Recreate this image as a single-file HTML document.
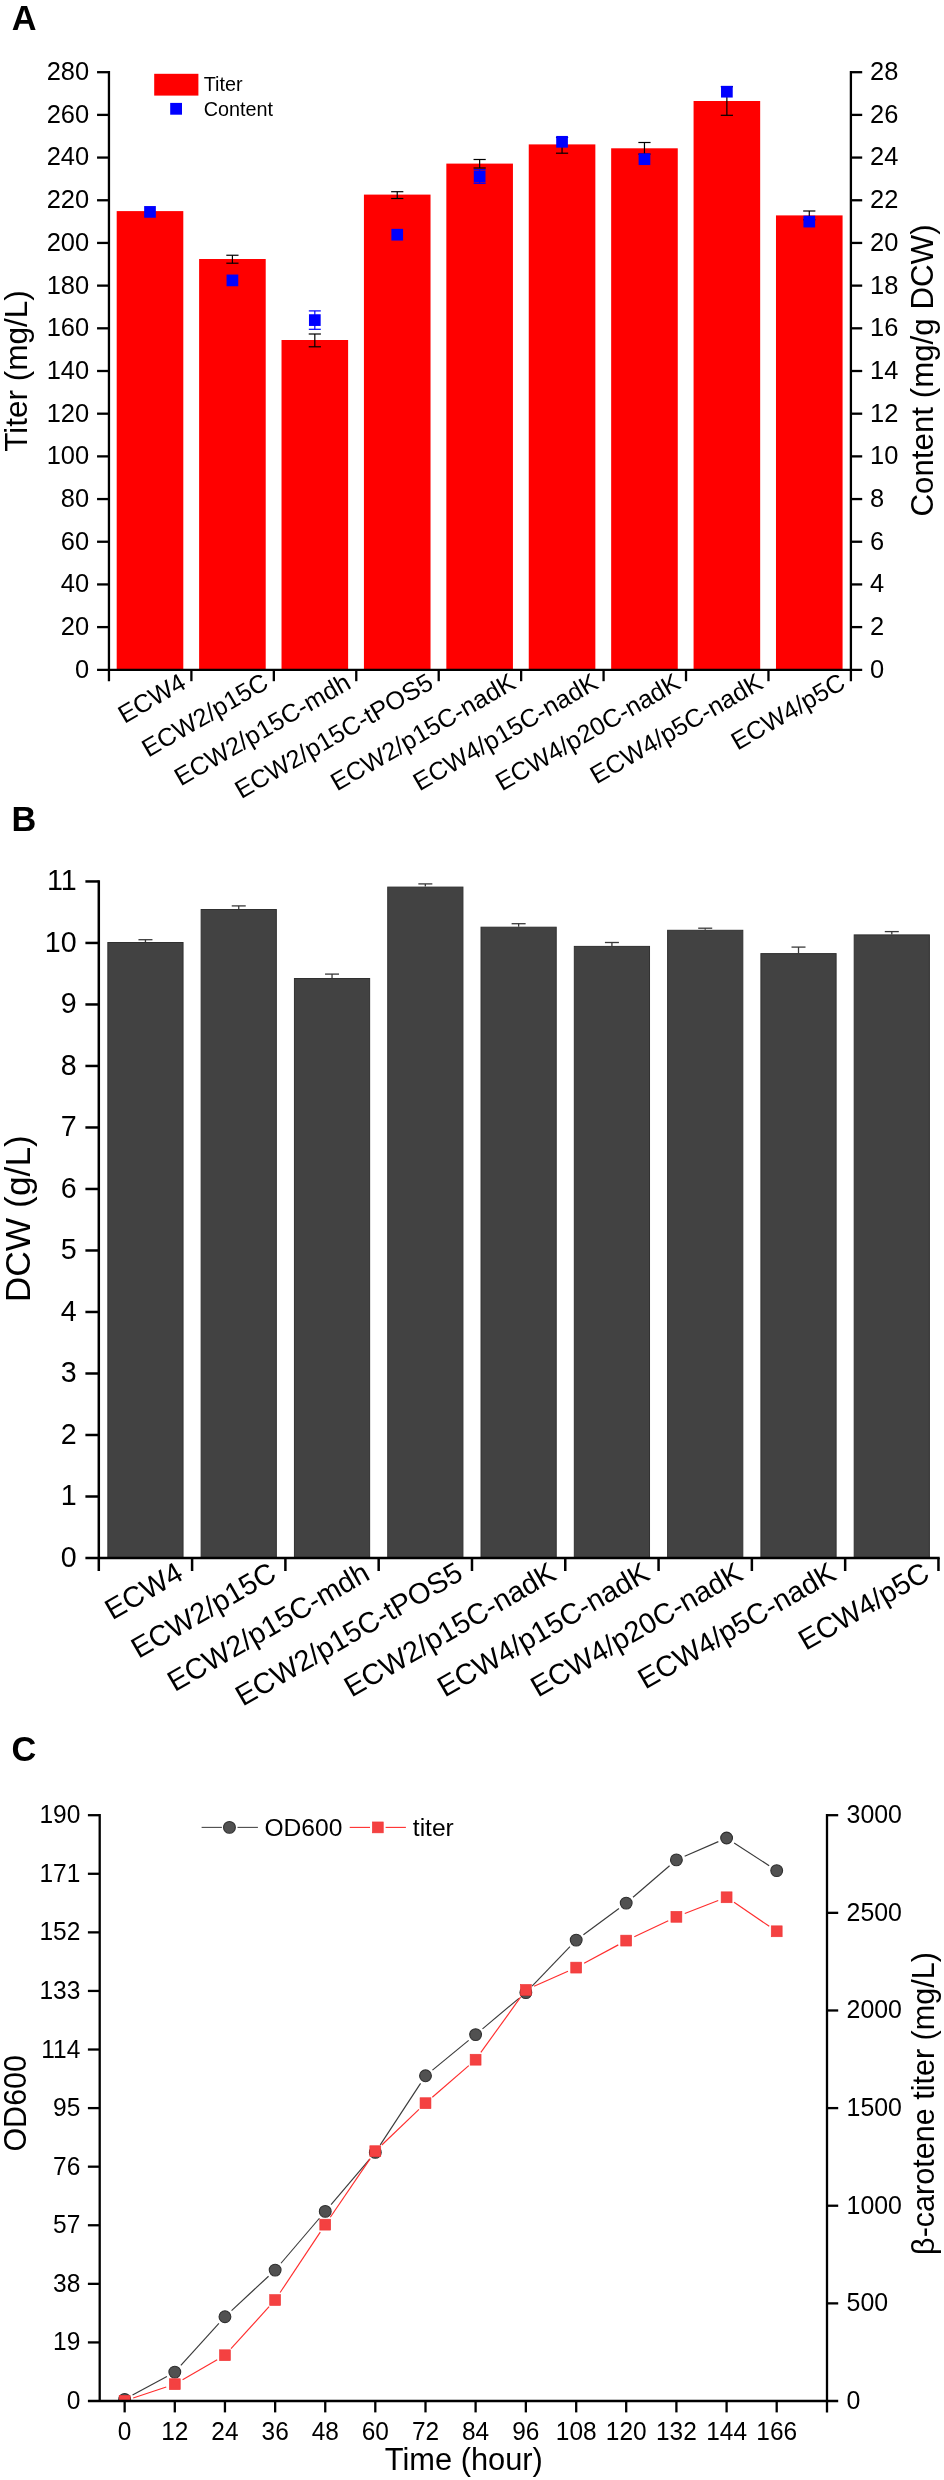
<!DOCTYPE html>
<html><head><meta charset="utf-8"><title>Figure</title>
<style>
html,body{margin:0;padding:0;background:#fff;}
body{width:944px;height:2480px;overflow:hidden;font-family:"Liberation Sans",sans-serif;}
svg{display:block;will-change:transform;}
svg text{font-family:"Liberation Sans",sans-serif;}
</style></head><body>
<svg width="944" height="2480" viewBox="0 0 944 2480">
<rect x="0" y="0" width="944" height="2480" fill="#ffffff"/>
<text x="11.8" y="30" font-size="34.3" text-anchor="start" font-weight="bold" fill="#000">A</text>
<rect x="116.7" y="211.1" width="66.6" height="458.7" fill="#ff0000"/>
<rect x="199.11" y="259" width="66.6" height="410.8" fill="#ff0000"/>
<rect x="281.52" y="340" width="66.6" height="329.8" fill="#ff0000"/>
<rect x="363.93" y="194.6" width="66.6" height="475.2" fill="#ff0000"/>
<rect x="446.34" y="163.6" width="66.6" height="506.2" fill="#ff0000"/>
<rect x="528.75" y="144.4" width="66.6" height="525.4" fill="#ff0000"/>
<rect x="611.16" y="148.3" width="66.6" height="521.5" fill="#ff0000"/>
<rect x="693.57" y="101" width="66.6" height="568.8" fill="#ff0000"/>
<rect x="775.98" y="215.4" width="66.6" height="454.4" fill="#ff0000"/>
<rect x="144.15" y="206.05" width="11.7" height="11.7" fill="#0000ff"/>
<line x1="232.41" y1="255.25" x2="232.41" y2="263.2" stroke="#000" stroke-width="1.2"/>
<line x1="226.31" y1="255.25" x2="238.51" y2="255.25" stroke="#000" stroke-width="1.2"/>
<line x1="226.31" y1="263.2" x2="238.51" y2="263.2" stroke="#000" stroke-width="1.2"/>
<rect x="226.56" y="274.55" width="11.7" height="11.7" fill="#0000ff"/>
<line x1="314.82" y1="334" x2="314.82" y2="346.8" stroke="#000" stroke-width="1.2"/>
<line x1="308.71999999999997" y1="334" x2="320.92" y2="334" stroke="#000" stroke-width="1.2"/>
<line x1="308.71999999999997" y1="346.8" x2="320.92" y2="346.8" stroke="#000" stroke-width="1.2"/>
<line x1="314.82" y1="310.90000000000003" x2="314.82" y2="329.3" stroke="#0000ff" stroke-width="1.2"/>
<line x1="308.82" y1="310.9" x2="320.82" y2="310.9" stroke="#0000ff" stroke-width="1.2"/>
<line x1="308.82" y1="329.3" x2="320.82" y2="329.3" stroke="#0000ff" stroke-width="1.2"/>
<rect x="308.97" y="314.25" width="11.7" height="11.7" fill="#0000ff"/>
<line x1="397.23" y1="191.7" x2="397.23" y2="198.5" stroke="#000" stroke-width="1.2"/>
<line x1="391.13" y1="191.7" x2="403.33000000000004" y2="191.7" stroke="#000" stroke-width="1.2"/>
<line x1="391.13" y1="198.5" x2="403.33000000000004" y2="198.5" stroke="#000" stroke-width="1.2"/>
<rect x="391.38" y="228.85" width="11.7" height="11.7" fill="#0000ff"/>
<line x1="479.64" y1="159.5" x2="479.64" y2="168" stroke="#000" stroke-width="1.2"/>
<line x1="473.53999999999996" y1="159.5" x2="485.74" y2="159.5" stroke="#000" stroke-width="1.2"/>
<line x1="473.53999999999996" y1="168" x2="485.74" y2="168" stroke="#000" stroke-width="1.2"/>
<line x1="479.64" y1="169.7" x2="479.64" y2="183.3" stroke="#0000ff" stroke-width="1.2"/>
<line x1="473.64" y1="169.7" x2="485.64" y2="169.7" stroke="#0000ff" stroke-width="1.2"/>
<line x1="473.64" y1="183.3" x2="485.64" y2="183.3" stroke="#0000ff" stroke-width="1.2"/>
<rect x="473.79" y="170.65" width="11.7" height="11.7" fill="#0000ff"/>
<line x1="562.05" y1="137.5" x2="562.05" y2="153.2" stroke="#000" stroke-width="1.2"/>
<line x1="555.9499999999999" y1="137.5" x2="568.15" y2="137.5" stroke="#000" stroke-width="1.2"/>
<line x1="555.9499999999999" y1="153.2" x2="568.15" y2="153.2" stroke="#000" stroke-width="1.2"/>
<rect x="556.2" y="135.95" width="11.7" height="11.7" fill="#0000ff"/>
<line x1="644.46" y1="142.5" x2="644.46" y2="154.1" stroke="#000" stroke-width="1.2"/>
<line x1="638.36" y1="142.5" x2="650.5600000000001" y2="142.5" stroke="#000" stroke-width="1.2"/>
<line x1="638.36" y1="154.1" x2="650.5600000000001" y2="154.1" stroke="#000" stroke-width="1.2"/>
<rect x="638.61" y="153.35" width="11.7" height="11.7" fill="#0000ff"/>
<line x1="726.87" y1="86.7" x2="726.87" y2="115.3" stroke="#000" stroke-width="1.2"/>
<line x1="720.77" y1="86.7" x2="732.97" y2="86.7" stroke="#000" stroke-width="1.2"/>
<line x1="720.77" y1="115.3" x2="732.97" y2="115.3" stroke="#000" stroke-width="1.2"/>
<rect x="721.02" y="85.85" width="11.7" height="11.7" fill="#0000ff"/>
<line x1="809.28" y1="211" x2="809.28" y2="219.8" stroke="#000" stroke-width="1.2"/>
<line x1="803.18" y1="211" x2="815.38" y2="211" stroke="#000" stroke-width="1.2"/>
<line x1="803.18" y1="219.8" x2="815.38" y2="219.8" stroke="#000" stroke-width="1.2"/>
<rect x="803.43" y="215.75" width="11.7" height="11.7" fill="#0000ff"/>
<line x1="108.95" y1="71.05" x2="108.95" y2="681.1999999999999" stroke="#000" stroke-width="2.3"/>
<line x1="850.9" y1="71.05" x2="850.9" y2="681.1999999999999" stroke="#000" stroke-width="2.3"/>
<line x1="97.05" y1="669.8" x2="862.1999999999999" y2="669.8" stroke="#000" stroke-width="2.3"/>
<line x1="97.05" y1="72.2" x2="108.95" y2="72.2" stroke="#000" stroke-width="2.3"/>
<line x1="850.9" y1="72.2" x2="862.1999999999999" y2="72.2" stroke="#000" stroke-width="2.3"/>
<text transform="translate(89.15 80.1) scale(0.975 1)" font-size="26.1" text-anchor="end" fill="#000">280</text>
<text transform="translate(870.1 80.1) scale(0.975 1)" font-size="26.1" text-anchor="start" fill="#000">28</text>
<line x1="97.05" y1="114.89" x2="108.95" y2="114.89" stroke="#000" stroke-width="2.3"/>
<line x1="850.9" y1="114.89" x2="862.1999999999999" y2="114.89" stroke="#000" stroke-width="2.3"/>
<text transform="translate(89.15 122.79) scale(0.975 1)" font-size="26.1" text-anchor="end" fill="#000">260</text>
<text transform="translate(870.1 122.79) scale(0.975 1)" font-size="26.1" text-anchor="start" fill="#000">26</text>
<line x1="97.05" y1="157.57" x2="108.95" y2="157.57" stroke="#000" stroke-width="2.3"/>
<line x1="850.9" y1="157.57" x2="862.1999999999999" y2="157.57" stroke="#000" stroke-width="2.3"/>
<text transform="translate(89.15 165.47) scale(0.975 1)" font-size="26.1" text-anchor="end" fill="#000">240</text>
<text transform="translate(870.1 165.47) scale(0.975 1)" font-size="26.1" text-anchor="start" fill="#000">24</text>
<line x1="97.05" y1="200.26" x2="108.95" y2="200.26" stroke="#000" stroke-width="2.3"/>
<line x1="850.9" y1="200.26" x2="862.1999999999999" y2="200.26" stroke="#000" stroke-width="2.3"/>
<text transform="translate(89.15 208.16) scale(0.975 1)" font-size="26.1" text-anchor="end" fill="#000">220</text>
<text transform="translate(870.1 208.16) scale(0.975 1)" font-size="26.1" text-anchor="start" fill="#000">22</text>
<line x1="97.05" y1="242.94" x2="108.95" y2="242.94" stroke="#000" stroke-width="2.3"/>
<line x1="850.9" y1="242.94" x2="862.1999999999999" y2="242.94" stroke="#000" stroke-width="2.3"/>
<text transform="translate(89.15 250.84) scale(0.975 1)" font-size="26.1" text-anchor="end" fill="#000">200</text>
<text transform="translate(870.1 250.84) scale(0.975 1)" font-size="26.1" text-anchor="start" fill="#000">20</text>
<line x1="97.05" y1="285.63" x2="108.95" y2="285.63" stroke="#000" stroke-width="2.3"/>
<line x1="850.9" y1="285.63" x2="862.1999999999999" y2="285.63" stroke="#000" stroke-width="2.3"/>
<text transform="translate(89.15 293.53) scale(0.975 1)" font-size="26.1" text-anchor="end" fill="#000">180</text>
<text transform="translate(870.1 293.53) scale(0.975 1)" font-size="26.1" text-anchor="start" fill="#000">18</text>
<line x1="97.05" y1="328.31" x2="108.95" y2="328.31" stroke="#000" stroke-width="2.3"/>
<line x1="850.9" y1="328.31" x2="862.1999999999999" y2="328.31" stroke="#000" stroke-width="2.3"/>
<text transform="translate(89.15 336.21) scale(0.975 1)" font-size="26.1" text-anchor="end" fill="#000">160</text>
<text transform="translate(870.1 336.21) scale(0.975 1)" font-size="26.1" text-anchor="start" fill="#000">16</text>
<line x1="97.05" y1="371.0" x2="108.95" y2="371.0" stroke="#000" stroke-width="2.3"/>
<line x1="850.9" y1="371.0" x2="862.1999999999999" y2="371.0" stroke="#000" stroke-width="2.3"/>
<text transform="translate(89.15 378.9) scale(0.975 1)" font-size="26.1" text-anchor="end" fill="#000">140</text>
<text transform="translate(870.1 378.9) scale(0.975 1)" font-size="26.1" text-anchor="start" fill="#000">14</text>
<line x1="97.05" y1="413.69" x2="108.95" y2="413.69" stroke="#000" stroke-width="2.3"/>
<line x1="850.9" y1="413.69" x2="862.1999999999999" y2="413.69" stroke="#000" stroke-width="2.3"/>
<text transform="translate(89.15 421.59) scale(0.975 1)" font-size="26.1" text-anchor="end" fill="#000">120</text>
<text transform="translate(870.1 421.59) scale(0.975 1)" font-size="26.1" text-anchor="start" fill="#000">12</text>
<line x1="97.05" y1="456.37" x2="108.95" y2="456.37" stroke="#000" stroke-width="2.3"/>
<line x1="850.9" y1="456.37" x2="862.1999999999999" y2="456.37" stroke="#000" stroke-width="2.3"/>
<text transform="translate(89.15 464.27) scale(0.975 1)" font-size="26.1" text-anchor="end" fill="#000">100</text>
<text transform="translate(870.1 464.27) scale(0.975 1)" font-size="26.1" text-anchor="start" fill="#000">10</text>
<line x1="97.05" y1="499.06" x2="108.95" y2="499.06" stroke="#000" stroke-width="2.3"/>
<line x1="850.9" y1="499.06" x2="862.1999999999999" y2="499.06" stroke="#000" stroke-width="2.3"/>
<text transform="translate(89.15 506.96) scale(0.975 1)" font-size="26.1" text-anchor="end" fill="#000">80</text>
<text transform="translate(870.1 506.96) scale(0.975 1)" font-size="26.1" text-anchor="start" fill="#000">8</text>
<line x1="97.05" y1="541.74" x2="108.95" y2="541.74" stroke="#000" stroke-width="2.3"/>
<line x1="850.9" y1="541.74" x2="862.1999999999999" y2="541.74" stroke="#000" stroke-width="2.3"/>
<text transform="translate(89.15 549.64) scale(0.975 1)" font-size="26.1" text-anchor="end" fill="#000">60</text>
<text transform="translate(870.1 549.64) scale(0.975 1)" font-size="26.1" text-anchor="start" fill="#000">6</text>
<line x1="97.05" y1="584.43" x2="108.95" y2="584.43" stroke="#000" stroke-width="2.3"/>
<line x1="850.9" y1="584.43" x2="862.1999999999999" y2="584.43" stroke="#000" stroke-width="2.3"/>
<text transform="translate(89.15 592.33) scale(0.975 1)" font-size="26.1" text-anchor="end" fill="#000">40</text>
<text transform="translate(870.1 592.33) scale(0.975 1)" font-size="26.1" text-anchor="start" fill="#000">4</text>
<line x1="97.05" y1="627.11" x2="108.95" y2="627.11" stroke="#000" stroke-width="2.3"/>
<line x1="850.9" y1="627.11" x2="862.1999999999999" y2="627.11" stroke="#000" stroke-width="2.3"/>
<text transform="translate(89.15 635.01) scale(0.975 1)" font-size="26.1" text-anchor="end" fill="#000">20</text>
<text transform="translate(870.1 635.01) scale(0.975 1)" font-size="26.1" text-anchor="start" fill="#000">2</text>
<text transform="translate(89.15 677.7) scale(0.975 1)" font-size="26.1" text-anchor="end" fill="#000">0</text>
<text transform="translate(870.1 677.7) scale(0.975 1)" font-size="26.1" text-anchor="start" fill="#000">0</text>
<text x="187.7" y="687.4" font-size="25.3" text-anchor="end" transform="rotate(-30 187.7 687.4)" fill="#000">ECW4</text>
<line x1="191.39" y1="669.8" x2="191.39" y2="681.1999999999999" stroke="#000" stroke-width="2.3"/>
<text x="270.1" y="687.4" font-size="25.3" text-anchor="end" transform="rotate(-30 270.1 687.4)" fill="#000">ECW2/p15C</text>
<line x1="273.83" y1="669.8" x2="273.83" y2="681.1999999999999" stroke="#000" stroke-width="2.3"/>
<text x="352.5" y="687.4" font-size="25.3" text-anchor="end" transform="rotate(-30 352.5 687.4)" fill="#000">ECW2/p15C-mdh</text>
<line x1="356.27" y1="669.8" x2="356.27" y2="681.1999999999999" stroke="#000" stroke-width="2.3"/>
<text x="434.9" y="687.4" font-size="25.3" text-anchor="end" transform="rotate(-30 434.9 687.4)" fill="#000">ECW2/p15C-tPOS5</text>
<line x1="438.71" y1="669.8" x2="438.71" y2="681.1999999999999" stroke="#000" stroke-width="2.3"/>
<text x="517.3" y="687.4" font-size="25.3" text-anchor="end" transform="rotate(-30 517.3 687.4)" fill="#000">ECW2/p15C-nadK</text>
<line x1="521.14" y1="669.8" x2="521.14" y2="681.1999999999999" stroke="#000" stroke-width="2.3"/>
<text x="599.8" y="687.4" font-size="25.3" text-anchor="end" transform="rotate(-30 599.8 687.4)" fill="#000">ECW4/p15C-nadK</text>
<line x1="603.58" y1="669.8" x2="603.58" y2="681.1999999999999" stroke="#000" stroke-width="2.3"/>
<text x="682.2" y="687.4" font-size="25.3" text-anchor="end" transform="rotate(-30 682.2 687.4)" fill="#000">ECW4/p20C-nadK</text>
<line x1="686.02" y1="669.8" x2="686.02" y2="681.1999999999999" stroke="#000" stroke-width="2.3"/>
<text x="764.6" y="687.4" font-size="25.3" text-anchor="end" transform="rotate(-30 764.6 687.4)" fill="#000">ECW4/p5C-nadK</text>
<line x1="768.46" y1="669.8" x2="768.46" y2="681.1999999999999" stroke="#000" stroke-width="2.3"/>
<text x="847.0" y="687.4" font-size="25.3" text-anchor="end" transform="rotate(-30 847.0 687.4)" fill="#000">ECW4/p5C</text>
<rect x="154.2" y="73.8" width="44.2" height="21.8" fill="#ff0000"/>
<rect x="170.2" y="102.9" width="11.8" height="11.8" fill="#0000ff"/>
<text x="203.7" y="91.4" font-size="19.8" text-anchor="start" fill="#000">Titer</text>
<text x="203.7" y="115.6" font-size="19.8" text-anchor="start" fill="#000">Content</text>
<text x="26.9" y="371" font-size="31.5" text-anchor="middle" transform="rotate(-90 26.9 371)" fill="#000">Titer (mg/L)</text>
<text x="933.3" y="370.5" font-size="31.3" text-anchor="middle" transform="rotate(-90 933.3 370.5)" fill="#000">Content (mg/g DCW)</text>
<text x="11.6" y="831" font-size="34.3" text-anchor="start" font-weight="bold" fill="#000">B</text>
<line x1="145.45" y1="939.7" x2="145.45" y2="942.0" stroke="#3a3a3a" stroke-width="1.3"/>
<line x1="138.45" y1="939.7" x2="152.45" y2="939.7" stroke="#3a3a3a" stroke-width="1.3"/>
<rect x="107.85" y="942.5" width="75.2" height="615.5" fill="#424242" stroke="#303030" stroke-width="1"/>
<line x1="238.74" y1="905.9" x2="238.74" y2="909.0" stroke="#3a3a3a" stroke-width="1.3"/>
<line x1="231.74" y1="905.9" x2="245.74" y2="905.9" stroke="#3a3a3a" stroke-width="1.3"/>
<rect x="201.14" y="909.5" width="75.2" height="648.5" fill="#424242" stroke="#303030" stroke-width="1"/>
<line x1="332.04" y1="974.1" x2="332.04" y2="978.0" stroke="#3a3a3a" stroke-width="1.3"/>
<line x1="325.04" y1="974.1" x2="339.04" y2="974.1" stroke="#3a3a3a" stroke-width="1.3"/>
<rect x="294.44" y="978.5" width="75.2" height="579.5" fill="#424242" stroke="#303030" stroke-width="1"/>
<line x1="425.33" y1="883.9" x2="425.33" y2="886.6" stroke="#3a3a3a" stroke-width="1.3"/>
<line x1="418.33" y1="883.9" x2="432.33" y2="883.9" stroke="#3a3a3a" stroke-width="1.3"/>
<rect x="387.73" y="887.1" width="75.2" height="670.9" fill="#424242" stroke="#303030" stroke-width="1"/>
<line x1="518.62" y1="923.7" x2="518.62" y2="926.7" stroke="#3a3a3a" stroke-width="1.3"/>
<line x1="511.62" y1="923.7" x2="525.62" y2="923.7" stroke="#3a3a3a" stroke-width="1.3"/>
<rect x="481.02" y="927.2" width="75.2" height="630.8" fill="#424242" stroke="#303030" stroke-width="1"/>
<line x1="611.92" y1="942.5" x2="611.92" y2="945.9" stroke="#3a3a3a" stroke-width="1.3"/>
<line x1="604.92" y1="942.5" x2="618.92" y2="942.5" stroke="#3a3a3a" stroke-width="1.3"/>
<rect x="574.32" y="946.4" width="75.2" height="611.6" fill="#424242" stroke="#303030" stroke-width="1"/>
<line x1="705.21" y1="928.2" x2="705.21" y2="929.8" stroke="#3a3a3a" stroke-width="1.3"/>
<line x1="698.21" y1="928.2" x2="712.21" y2="928.2" stroke="#3a3a3a" stroke-width="1.3"/>
<rect x="667.61" y="930.3" width="75.2" height="627.7" fill="#424242" stroke="#303030" stroke-width="1"/>
<line x1="798.51" y1="947.1" x2="798.51" y2="953.1" stroke="#3a3a3a" stroke-width="1.3"/>
<line x1="791.51" y1="947.1" x2="805.51" y2="947.1" stroke="#3a3a3a" stroke-width="1.3"/>
<rect x="760.91" y="953.6" width="75.2" height="604.4" fill="#424242" stroke="#303030" stroke-width="1"/>
<line x1="891.8" y1="931.6" x2="891.8" y2="934.4" stroke="#3a3a3a" stroke-width="1.3"/>
<line x1="884.8" y1="931.6" x2="898.8" y2="931.6" stroke="#3a3a3a" stroke-width="1.3"/>
<rect x="854.2" y="934.9" width="75.2" height="623.1" fill="#424242" stroke="#303030" stroke-width="1"/>
<line x1="98.8" y1="880.2" x2="98.8" y2="1571.0" stroke="#000" stroke-width="2.5"/>
<line x1="85.39999999999999" y1="1558.0" x2="939.7" y2="1558.0" stroke="#000" stroke-width="2.5"/>
<line x1="85.39999999999999" y1="881.45" x2="98.8" y2="881.45" stroke="#000" stroke-width="2.5"/>
<text transform="translate(76.7 890.35) scale(0.955 1)" font-size="30.0" text-anchor="end" fill="#000">11</text>
<line x1="85.39999999999999" y1="942.95" x2="98.8" y2="942.95" stroke="#000" stroke-width="2.5"/>
<text transform="translate(76.7 951.85) scale(0.955 1)" font-size="30.0" text-anchor="end" fill="#000">10</text>
<line x1="85.39999999999999" y1="1004.46" x2="98.8" y2="1004.46" stroke="#000" stroke-width="2.5"/>
<text transform="translate(76.7 1013.36) scale(0.955 1)" font-size="30.0" text-anchor="end" fill="#000">9</text>
<line x1="85.39999999999999" y1="1065.96" x2="98.8" y2="1065.96" stroke="#000" stroke-width="2.5"/>
<text transform="translate(76.7 1074.86) scale(0.955 1)" font-size="30.0" text-anchor="end" fill="#000">8</text>
<line x1="85.39999999999999" y1="1127.47" x2="98.8" y2="1127.47" stroke="#000" stroke-width="2.5"/>
<text transform="translate(76.7 1136.37) scale(0.955 1)" font-size="30.0" text-anchor="end" fill="#000">7</text>
<line x1="85.39999999999999" y1="1188.97" x2="98.8" y2="1188.97" stroke="#000" stroke-width="2.5"/>
<text transform="translate(76.7 1197.87) scale(0.955 1)" font-size="30.0" text-anchor="end" fill="#000">6</text>
<line x1="85.39999999999999" y1="1250.48" x2="98.8" y2="1250.48" stroke="#000" stroke-width="2.5"/>
<text transform="translate(76.7 1259.38) scale(0.955 1)" font-size="30.0" text-anchor="end" fill="#000">5</text>
<line x1="85.39999999999999" y1="1311.98" x2="98.8" y2="1311.98" stroke="#000" stroke-width="2.5"/>
<text transform="translate(76.7 1320.88) scale(0.955 1)" font-size="30.0" text-anchor="end" fill="#000">4</text>
<line x1="85.39999999999999" y1="1373.49" x2="98.8" y2="1373.49" stroke="#000" stroke-width="2.5"/>
<text transform="translate(76.7 1382.39) scale(0.955 1)" font-size="30.0" text-anchor="end" fill="#000">3</text>
<line x1="85.39999999999999" y1="1434.99" x2="98.8" y2="1434.99" stroke="#000" stroke-width="2.5"/>
<text transform="translate(76.7 1443.89) scale(0.955 1)" font-size="30.0" text-anchor="end" fill="#000">2</text>
<line x1="85.39999999999999" y1="1496.5" x2="98.8" y2="1496.5" stroke="#000" stroke-width="2.5"/>
<text transform="translate(76.7 1505.4) scale(0.955 1)" font-size="30.0" text-anchor="end" fill="#000">1</text>
<text transform="translate(76.7 1566.9) scale(0.955 1)" font-size="30.0" text-anchor="end" fill="#000">0</text>
<line x1="192.09" y1="1558.0" x2="192.09" y2="1571.0" stroke="#000" stroke-width="2.5"/>
<text x="184.9" y="1578.5" font-size="29.0" text-anchor="end" transform="rotate(-30 184.9 1578.5)" fill="#000">ECW4</text>
<line x1="285.39" y1="1558.0" x2="285.39" y2="1571.0" stroke="#000" stroke-width="2.5"/>
<text x="278.2" y="1578.5" font-size="29.0" text-anchor="end" transform="rotate(-30 278.2 1578.5)" fill="#000">ECW2/p15C</text>
<line x1="378.68" y1="1558.0" x2="378.68" y2="1571.0" stroke="#000" stroke-width="2.5"/>
<text x="371.5" y="1578.5" font-size="29.0" text-anchor="end" transform="rotate(-30 371.5 1578.5)" fill="#000">ECW2/p15C-mdh</text>
<line x1="471.98" y1="1558.0" x2="471.98" y2="1571.0" stroke="#000" stroke-width="2.5"/>
<text x="464.8" y="1578.5" font-size="29.0" text-anchor="end" transform="rotate(-30 464.8 1578.5)" fill="#000">ECW2/p15C-tPOS5</text>
<line x1="565.27" y1="1558.0" x2="565.27" y2="1571.0" stroke="#000" stroke-width="2.5"/>
<text x="558.1" y="1578.5" font-size="29.0" text-anchor="end" transform="rotate(-30 558.1 1578.5)" fill="#000">ECW2/p15C-nadK</text>
<line x1="658.57" y1="1558.0" x2="658.57" y2="1571.0" stroke="#000" stroke-width="2.5"/>
<text x="651.4" y="1578.5" font-size="29.0" text-anchor="end" transform="rotate(-30 651.4 1578.5)" fill="#000">ECW4/p15C-nadK</text>
<line x1="751.86" y1="1558.0" x2="751.86" y2="1571.0" stroke="#000" stroke-width="2.5"/>
<text x="744.7" y="1578.5" font-size="29.0" text-anchor="end" transform="rotate(-30 744.7 1578.5)" fill="#000">ECW4/p20C-nadK</text>
<line x1="845.16" y1="1558.0" x2="845.16" y2="1571.0" stroke="#000" stroke-width="2.5"/>
<text x="838.0" y="1578.5" font-size="29.0" text-anchor="end" transform="rotate(-30 838.0 1578.5)" fill="#000">ECW4/p5C-nadK</text>
<line x1="938.45" y1="1558.0" x2="938.45" y2="1571.0" stroke="#000" stroke-width="2.5"/>
<text x="931.3" y="1578.5" font-size="29.0" text-anchor="end" transform="rotate(-30 931.3 1578.5)" fill="#000">ECW4/p5C</text>
<text x="29.9" y="1218.7" font-size="35.4" text-anchor="middle" transform="rotate(-90 29.9 1218.7)" fill="#000">DCW (g/L)</text>
<text x="11.5" y="1760.7" font-size="34.3" text-anchor="start" font-weight="bold" fill="#000">C</text>
<clipPath id="cpc"><rect x="99.7" y="1800" width="727.3" height="601.0"/></clipPath>
<g clip-path="url(#cpc)">
<line x1="132.55" y1="2395.1" x2="166.9" y2="2376.4" stroke="#3a3a3a" stroke-width="1.15"/>
<line x1="180.84" y1="2365.43" x2="218.91" y2="2323.37" stroke="#3a3a3a" stroke-width="1.15"/>
<line x1="231.55" y1="2310.58" x2="268.55" y2="2276.22" stroke="#3a3a3a" stroke-width="1.15"/>
<line x1="280.99" y1="2263.25" x2="319.41" y2="2218.25" stroke="#3a3a3a" stroke-width="1.15"/>
<line x1="331.07" y1="2204.54" x2="369.48" y2="2159.26" stroke="#3a3a3a" stroke-width="1.15"/>
<line x1="380.23" y1="2144.87" x2="420.57" y2="2083.33" stroke="#3a3a3a" stroke-width="1.15"/>
<line x1="432.45" y1="2070.08" x2="468.65" y2="2040.32" stroke="#3a3a3a" stroke-width="1.15"/>
<line x1="482.51" y1="2028.83" x2="518.94" y2="1998.37" stroke="#3a3a3a" stroke-width="1.15"/>
<line x1="532.08" y1="1986.1" x2="569.97" y2="1946.6" stroke="#3a3a3a" stroke-width="1.15"/>
<line x1="583.43" y1="1934.75" x2="618.97" y2="1908.45" stroke="#3a3a3a" stroke-width="1.15"/>
<line x1="633.02" y1="1897.23" x2="669.58" y2="1865.77" stroke="#3a3a3a" stroke-width="1.15"/>
<line x1="684.65" y1="1856.3" x2="718.35" y2="1841.6" stroke="#3a3a3a" stroke-width="1.15"/>
<line x1="734.14" y1="1842.91" x2="769.16" y2="1865.69" stroke="#3a3a3a" stroke-width="1.15"/>
<circle cx="124.65" cy="2399.4" r="5.9" fill="#515151" stroke="#2f2f2f" stroke-width="1.1"/>
<circle cx="174.8" cy="2372.1" r="5.9" fill="#515151" stroke="#2f2f2f" stroke-width="1.1"/>
<circle cx="224.95" cy="2316.7" r="5.9" fill="#515151" stroke="#2f2f2f" stroke-width="1.1"/>
<circle cx="275.15" cy="2270.1" r="5.9" fill="#515151" stroke="#2f2f2f" stroke-width="1.1"/>
<circle cx="325.25" cy="2211.4" r="5.9" fill="#515151" stroke="#2f2f2f" stroke-width="1.1"/>
<circle cx="375.3" cy="2152.4" r="5.9" fill="#515151" stroke="#2f2f2f" stroke-width="1.1"/>
<circle cx="425.5" cy="2075.8" r="5.9" fill="#515151" stroke="#2f2f2f" stroke-width="1.1"/>
<circle cx="475.6" cy="2034.6" r="5.9" fill="#515151" stroke="#2f2f2f" stroke-width="1.1"/>
<circle cx="525.85" cy="1992.6" r="5.9" fill="#515151" stroke="#2f2f2f" stroke-width="1.1"/>
<circle cx="576.2" cy="1940.1" r="5.9" fill="#515151" stroke="#2f2f2f" stroke-width="1.1"/>
<circle cx="626.2" cy="1903.1" r="5.9" fill="#515151" stroke="#2f2f2f" stroke-width="1.1"/>
<circle cx="676.4" cy="1859.9" r="5.9" fill="#515151" stroke="#2f2f2f" stroke-width="1.1"/>
<circle cx="726.6" cy="1838.0" r="5.9" fill="#515151" stroke="#2f2f2f" stroke-width="1.1"/>
<circle cx="776.7" cy="1870.6" r="5.9" fill="#515151" stroke="#2f2f2f" stroke-width="1.1"/>
<line x1="133.2" y1="2397.93" x2="166.25" y2="2387.02" stroke="#ff2d2d" stroke-width="1.15"/>
<line x1="182.59" y1="2379.7" x2="217.16" y2="2359.75" stroke="#ff2d2d" stroke-width="1.15"/>
<line x1="231.01" y1="2348.59" x2="269.09" y2="2306.71" stroke="#ff2d2d" stroke-width="1.15"/>
<line x1="280.13" y1="2292.55" x2="320.27" y2="2232.15" stroke="#ff2d2d" stroke-width="1.15"/>
<line x1="330.32" y1="2217.21" x2="370.23" y2="2158.64" stroke="#ff2d2d" stroke-width="1.15"/>
<line x1="381.8" y1="2144.98" x2="419.0" y2="2109.42" stroke="#ff2d2d" stroke-width="1.15"/>
<line x1="432.3" y1="2097.3" x2="468.8" y2="2065.6" stroke="#ff2d2d" stroke-width="1.15"/>
<line x1="480.86" y1="2052.4" x2="520.59" y2="1997.2" stroke="#ff2d2d" stroke-width="1.15"/>
<line x1="534.08" y1="1986.26" x2="567.97" y2="1971.24" stroke="#ff2d2d" stroke-width="1.15"/>
<line x1="584.12" y1="1963.32" x2="618.28" y2="1944.88" stroke="#ff2d2d" stroke-width="1.15"/>
<line x1="634.33" y1="1936.74" x2="668.27" y2="1920.66" stroke="#ff2d2d" stroke-width="1.15"/>
<line x1="684.79" y1="1913.54" x2="718.21" y2="1900.56" stroke="#ff2d2d" stroke-width="1.15"/>
<line x1="734.05" y1="1902.35" x2="769.25" y2="1926.25" stroke="#ff2d2d" stroke-width="1.15"/>
<rect x="119.2" y="2395.3" width="10.9" height="10.9" fill="#f44141" stroke="#f03434" stroke-width="0.6"/>
<rect x="169.35" y="2378.75" width="10.9" height="10.9" fill="#f44141" stroke="#f03434" stroke-width="0.6"/>
<rect x="219.5" y="2349.8" width="10.9" height="10.9" fill="#f44141" stroke="#f03434" stroke-width="0.6"/>
<rect x="269.7" y="2294.6" width="10.9" height="10.9" fill="#f44141" stroke="#f03434" stroke-width="0.6"/>
<rect x="319.8" y="2219.2" width="10.9" height="10.9" fill="#f44141" stroke="#f03434" stroke-width="0.6"/>
<rect x="369.85" y="2145.75" width="10.9" height="10.9" fill="#f44141" stroke="#f03434" stroke-width="0.6"/>
<rect x="420.05" y="2097.75" width="10.9" height="10.9" fill="#f44141" stroke="#f03434" stroke-width="0.6"/>
<rect x="470.15" y="2054.25" width="10.9" height="10.9" fill="#f44141" stroke="#f03434" stroke-width="0.6"/>
<rect x="520.4" y="1984.45" width="10.9" height="10.9" fill="#f44141" stroke="#f03434" stroke-width="0.6"/>
<rect x="570.75" y="1962.15" width="10.9" height="10.9" fill="#f44141" stroke="#f03434" stroke-width="0.6"/>
<rect x="620.75" y="1935.15" width="10.9" height="10.9" fill="#f44141" stroke="#f03434" stroke-width="0.6"/>
<rect x="670.95" y="1911.35" width="10.9" height="10.9" fill="#f44141" stroke="#f03434" stroke-width="0.6"/>
<rect x="721.15" y="1891.85" width="10.9" height="10.9" fill="#f44141" stroke="#f03434" stroke-width="0.6"/>
<rect x="771.25" y="1925.85" width="10.9" height="10.9" fill="#f44141" stroke="#f03434" stroke-width="0.6"/>
</g>
<line x1="99.7" y1="1814.05" x2="99.7" y2="2401.0" stroke="#000" stroke-width="2.3"/>
<line x1="827.0" y1="1814.05" x2="827.0" y2="2412.4" stroke="#000" stroke-width="2.3"/>
<line x1="87.9" y1="2401.0" x2="838.2" y2="2401.0" stroke="#000" stroke-width="2.3"/>
<line x1="87.9" y1="1815.2" x2="99.7" y2="1815.2" stroke="#000" stroke-width="2.3"/>
<text transform="translate(80.3 1823.2) scale(0.922 1)" font-size="26.6" text-anchor="end" fill="#000">190</text>
<line x1="87.9" y1="1873.78" x2="99.7" y2="1873.78" stroke="#000" stroke-width="2.3"/>
<text transform="translate(80.3 1881.78) scale(0.922 1)" font-size="26.6" text-anchor="end" fill="#000">171</text>
<line x1="87.9" y1="1932.36" x2="99.7" y2="1932.36" stroke="#000" stroke-width="2.3"/>
<text transform="translate(80.3 1940.36) scale(0.922 1)" font-size="26.6" text-anchor="end" fill="#000">152</text>
<line x1="87.9" y1="1990.94" x2="99.7" y2="1990.94" stroke="#000" stroke-width="2.3"/>
<text transform="translate(80.3 1998.94) scale(0.922 1)" font-size="26.6" text-anchor="end" fill="#000">133</text>
<line x1="87.9" y1="2049.52" x2="99.7" y2="2049.52" stroke="#000" stroke-width="2.3"/>
<text transform="translate(80.3 2057.52) scale(0.922 1)" font-size="26.6" text-anchor="end" fill="#000">114</text>
<line x1="87.9" y1="2108.1" x2="99.7" y2="2108.1" stroke="#000" stroke-width="2.3"/>
<text transform="translate(80.3 2116.1) scale(0.922 1)" font-size="26.6" text-anchor="end" fill="#000">95</text>
<line x1="87.9" y1="2166.68" x2="99.7" y2="2166.68" stroke="#000" stroke-width="2.3"/>
<text transform="translate(80.3 2174.68) scale(0.922 1)" font-size="26.6" text-anchor="end" fill="#000">76</text>
<line x1="87.9" y1="2225.26" x2="99.7" y2="2225.26" stroke="#000" stroke-width="2.3"/>
<text transform="translate(80.3 2233.26) scale(0.922 1)" font-size="26.6" text-anchor="end" fill="#000">57</text>
<line x1="87.9" y1="2283.84" x2="99.7" y2="2283.84" stroke="#000" stroke-width="2.3"/>
<text transform="translate(80.3 2291.84) scale(0.922 1)" font-size="26.6" text-anchor="end" fill="#000">38</text>
<line x1="87.9" y1="2342.42" x2="99.7" y2="2342.42" stroke="#000" stroke-width="2.3"/>
<text transform="translate(80.3 2350.42) scale(0.922 1)" font-size="26.6" text-anchor="end" fill="#000">19</text>
<text transform="translate(80.3 2409.0) scale(0.922 1)" font-size="26.6" text-anchor="end" fill="#000">0</text>
<line x1="827.0" y1="1815.2" x2="838.2" y2="1815.2" stroke="#000" stroke-width="2.3"/>
<text transform="translate(846.6 1823.2) scale(0.936 1)" font-size="26.6" text-anchor="start" fill="#000">3000</text>
<line x1="827.0" y1="1912.83" x2="838.2" y2="1912.83" stroke="#000" stroke-width="2.3"/>
<text transform="translate(846.6 1920.83) scale(0.936 1)" font-size="26.6" text-anchor="start" fill="#000">2500</text>
<line x1="827.0" y1="2010.47" x2="838.2" y2="2010.47" stroke="#000" stroke-width="2.3"/>
<text transform="translate(846.6 2018.47) scale(0.936 1)" font-size="26.6" text-anchor="start" fill="#000">2000</text>
<line x1="827.0" y1="2108.1" x2="838.2" y2="2108.1" stroke="#000" stroke-width="2.3"/>
<text transform="translate(846.6 2116.1) scale(0.936 1)" font-size="26.6" text-anchor="start" fill="#000">1500</text>
<line x1="827.0" y1="2205.73" x2="838.2" y2="2205.73" stroke="#000" stroke-width="2.3"/>
<text transform="translate(846.6 2213.73) scale(0.936 1)" font-size="26.6" text-anchor="start" fill="#000">1000</text>
<line x1="827.0" y1="2303.37" x2="838.2" y2="2303.37" stroke="#000" stroke-width="2.3"/>
<text transform="translate(846.6 2311.37) scale(0.936 1)" font-size="26.6" text-anchor="start" fill="#000">500</text>
<text transform="translate(846.6 2409.0) scale(0.936 1)" font-size="26.6" text-anchor="start" fill="#000">0</text>
<line x1="124.65" y1="2401.0" x2="124.65" y2="2412.4" stroke="#000" stroke-width="2.3"/>
<text transform="translate(124.65 2440.0) scale(0.94 1)" font-size="26.0" text-anchor="middle" fill="#000">0</text>
<line x1="174.8" y1="2401.0" x2="174.8" y2="2412.4" stroke="#000" stroke-width="2.3"/>
<text transform="translate(174.8 2440.0) scale(0.94 1)" font-size="26.0" text-anchor="middle" fill="#000">12</text>
<line x1="224.95" y1="2401.0" x2="224.95" y2="2412.4" stroke="#000" stroke-width="2.3"/>
<text transform="translate(224.95 2440.0) scale(0.94 1)" font-size="26.0" text-anchor="middle" fill="#000">24</text>
<line x1="275.15" y1="2401.0" x2="275.15" y2="2412.4" stroke="#000" stroke-width="2.3"/>
<text transform="translate(275.15 2440.0) scale(0.94 1)" font-size="26.0" text-anchor="middle" fill="#000">36</text>
<line x1="325.25" y1="2401.0" x2="325.25" y2="2412.4" stroke="#000" stroke-width="2.3"/>
<text transform="translate(325.25 2440.0) scale(0.94 1)" font-size="26.0" text-anchor="middle" fill="#000">48</text>
<line x1="375.3" y1="2401.0" x2="375.3" y2="2412.4" stroke="#000" stroke-width="2.3"/>
<text transform="translate(375.3 2440.0) scale(0.94 1)" font-size="26.0" text-anchor="middle" fill="#000">60</text>
<line x1="425.5" y1="2401.0" x2="425.5" y2="2412.4" stroke="#000" stroke-width="2.3"/>
<text transform="translate(425.5 2440.0) scale(0.94 1)" font-size="26.0" text-anchor="middle" fill="#000">72</text>
<line x1="475.6" y1="2401.0" x2="475.6" y2="2412.4" stroke="#000" stroke-width="2.3"/>
<text transform="translate(475.6 2440.0) scale(0.94 1)" font-size="26.0" text-anchor="middle" fill="#000">84</text>
<line x1="525.85" y1="2401.0" x2="525.85" y2="2412.4" stroke="#000" stroke-width="2.3"/>
<text transform="translate(525.85 2440.0) scale(0.94 1)" font-size="26.0" text-anchor="middle" fill="#000">96</text>
<line x1="576.2" y1="2401.0" x2="576.2" y2="2412.4" stroke="#000" stroke-width="2.3"/>
<text transform="translate(576.2 2440.0) scale(0.94 1)" font-size="26.0" text-anchor="middle" fill="#000">108</text>
<line x1="626.2" y1="2401.0" x2="626.2" y2="2412.4" stroke="#000" stroke-width="2.3"/>
<text transform="translate(626.2 2440.0) scale(0.94 1)" font-size="26.0" text-anchor="middle" fill="#000">120</text>
<line x1="676.4" y1="2401.0" x2="676.4" y2="2412.4" stroke="#000" stroke-width="2.3"/>
<text transform="translate(676.4 2440.0) scale(0.94 1)" font-size="26.0" text-anchor="middle" fill="#000">132</text>
<line x1="726.6" y1="2401.0" x2="726.6" y2="2412.4" stroke="#000" stroke-width="2.3"/>
<text transform="translate(726.6 2440.0) scale(0.94 1)" font-size="26.0" text-anchor="middle" fill="#000">144</text>
<line x1="776.7" y1="2401.0" x2="776.7" y2="2412.4" stroke="#000" stroke-width="2.3"/>
<text transform="translate(776.7 2440.0) scale(0.94 1)" font-size="26.0" text-anchor="middle" fill="#000">166</text>
<line x1="201.6" y1="1827.4" x2="221.9" y2="1827.4" stroke="#4a4a4a" stroke-width="1.1"/>
<line x1="237.5" y1="1827.4" x2="257.9" y2="1827.4" stroke="#4a4a4a" stroke-width="1.1"/>
<circle cx="229.45" cy="1827.4" r="5.9" fill="#515151" stroke="#2f2f2f" stroke-width="1.1"/>
<text x="264.4" y="1836" font-size="24.6" text-anchor="start" fill="#000">OD600</text>
<line x1="349.7" y1="1827.4" x2="370" y2="1827.4" stroke="#ff2d2d" stroke-width="1.1"/>
<line x1="385.6" y1="1827.4" x2="405.9" y2="1827.4" stroke="#ff2d2d" stroke-width="1.1"/>
<rect x="372.35" y="1821.95" width="10.9" height="10.9" fill="#f44141" stroke="#f03434" stroke-width="0.6"/>
<text x="412.8" y="1836" font-size="24.6" text-anchor="start" fill="#000">titer</text>
<text x="26.2" y="2103.3" font-size="30.5" text-anchor="middle" transform="rotate(-90 26.2 2103.3)" fill="#000">OD600</text>
<text x="933.6" y="2103.5" font-size="30.55" text-anchor="middle" transform="rotate(-90 933.6 2103.5)" fill="#000">β-carotene titer (mg/L)</text>
<text x="463.8" y="2469.6" font-size="30.8" text-anchor="middle" fill="#000">Time (hour)</text>
</svg>
</body></html>
